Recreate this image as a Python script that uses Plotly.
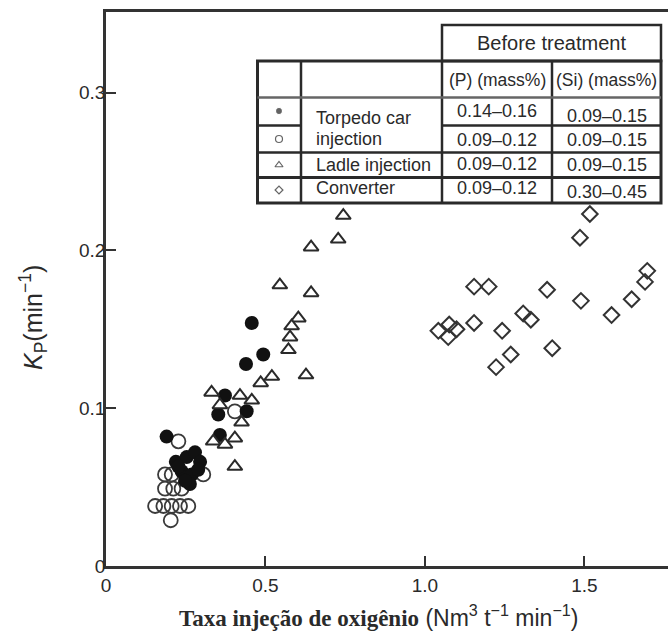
import plotly.graph_objects as go

# Torpedo car injection, (P) 0.14–0.16 mass%
torpedo_hiP_x = [0.219, 0.253, 0.279, 0.295, 0.237, 0.269, 0.263, 0.227, 0.289, 0.248,
                 0.190, 0.357, 0.352, 0.373, 0.441, 0.439, 0.493, 0.457]
torpedo_hiP_y = [0.066, 0.069, 0.072, 0.066, 0.060, 0.058, 0.052, 0.063, 0.061, 0.054,
                 0.082, 0.083, 0.096, 0.108, 0.098, 0.128, 0.134, 0.154]

# Torpedo car injection, (P) 0.09–0.12 mass%
torpedo_loP_x = [0.227, 0.185, 0.206, 0.305, 0.185, 0.211, 0.237, 0.154, 0.180, 0.206,
                 0.232, 0.258, 0.203, 0.404]
torpedo_loP_y = [0.079, 0.058, 0.058, 0.058, 0.049, 0.049, 0.049, 0.038, 0.038, 0.038,
                 0.038, 0.038, 0.029, 0.098]

# Ladle injection
ladle_x = [0.744, 0.728, 0.643, 0.545, 0.643, 0.603, 0.582, 0.577, 0.572, 0.627,
           0.520, 0.485, 0.457, 0.331, 0.420, 0.357, 0.425, 0.336, 0.373, 0.404, 0.404]
ladle_y = [0.222, 0.207, 0.202, 0.178, 0.173, 0.157, 0.152, 0.145, 0.137, 0.121,
           0.120, 0.116, 0.105, 0.110, 0.108, 0.102, 0.091, 0.079, 0.077, 0.081, 0.063]

# Converter
conv_x = [1.517, 1.486, 1.697, 1.690, 1.154, 1.200, 1.383, 1.489, 1.648, 1.585,
          1.308, 1.332, 1.154, 1.042, 1.076, 1.099, 1.073, 1.242, 1.399, 1.269, 1.223]
conv_y = [0.223, 0.208, 0.187, 0.180, 0.177, 0.177, 0.175, 0.168, 0.169, 0.159,
          0.160, 0.156, 0.154, 0.149, 0.153, 0.150, 0.145, 0.149, 0.138, 0.134, 0.126]

x_ticks = [0, 0.5, 1.0, 1.5]
x_tick_text = ["0", "0.5", "1.0", "1.5"]
y_ticks = [0, 0.1, 0.2, 0.3]
y_tick_text = ["0", "0.1", "0.2", "0.3"]

# Inset table content
table_header = "Before treatment"
table_cols = ["(P) (mass%)", "(Si) (mass%)"]
table_p = ["0.14–0.16", "0.09–0.12", "0.09–0.12", "0.09–0.12"]
table_si = ["0.09–0.15", "0.09–0.15", "0.09–0.15", "0.30–0.45"]

INK = "#2a2a2a"
SANS = "Arial, Liberation Sans, sans-serif"

fig = go.Figure()

fig.add_trace(go.Scatter(
    x=torpedo_loP_x, y=torpedo_loP_y, mode="markers",
    marker=dict(symbol="circle-open", size=14, color="#3a3a3a", line=dict(width=1.8)),
    showlegend=False))
fig.add_trace(go.Scatter(
    x=torpedo_hiP_x, y=torpedo_hiP_y, mode="markers",
    marker=dict(symbol="circle", size=14, color="#111111", line=dict(width=0)),
    showlegend=False))
fig.add_trace(go.Scatter(
    x=ladle_x, y=ladle_y, mode="markers",
    marker=dict(symbol="triangle-up", size=13, color="white",
                line=dict(width=2, color="#2a2a2a")),
    showlegend=False))
fig.add_trace(go.Scatter(
    x=conv_x, y=conv_y, mode="markers",
    marker=dict(symbol="diamond-open", size=12, color="#333333", line=dict(width=2)),
    showlegend=False))

# Table is laid out on an overlay pair of axes measured in pixels
X0, X1 = 106, 668
Y0, Y1 = 566, 12

tx = dict(xref="x2", yref="y2")
shapes = []


def rect(x0, y0, x1, y1, w, color=INK):
    # white background below the traces, border drawn above
    shapes.append(dict(type="rect", x0=x0, y0=y0, x1=x1, y1=y1, **tx, layer="below",
                       line=dict(width=0), fillcolor="white"))
    shapes.append(dict(type="rect", x0=x0, y0=y0, x1=x1, y1=y1, **tx,
                       line=dict(width=w, color=color), fillcolor="rgba(0,0,0,0)"))


def hline(x0, x1, y, w, color=INK):
    shapes.append(dict(type="line", x0=x0, x1=x1, y0=y, y1=y, **tx,
                       line=dict(width=w, color=color)))


def vline(x, y0, y1, w, color=INK):
    shapes.append(dict(type="line", x0=x, x1=x, y0=y0, y1=y1, **tx,
                       line=dict(width=w, color=color)))


L, C1, C2, C3, R = 257.5, 301, 442, 552, 661
TOP_H, TOP, H1, R1, R2, R3, BOT = 25, 61, 97.5, 125.5, 152.5, 177.5, 203

rect(C2, TOP_H, R, TOP, 2.5)
rect(L, TOP, R, BOT, 3)
vline(C1, TOP, BOT, 2.5)
vline(C2, TOP, BOT, 2.5)
vline(C3, TOP, BOT, 2.5)
hline(L, R, H1, 2.5, color="#666666")
hline(L, C1, R1, 2.5)
hline(C2, R, R1, 2.5)
hline(L, R, R2, 2.5)
hline(L, R, R3, 3)

annotations = []


def label(x, y, text, size=18, anchor="center"):
    annotations.append(dict(x=x, y=y, text=text, showarrow=False, **tx,
                            xanchor=anchor, yanchor="middle",
                            font=dict(family=SANS, size=size, color=INK)))


label((C2 + R) / 2, 43, table_header, size=20)
label((C2 + C3) / 2, 80, table_cols[0], size=17.5)
label((C3 + R) / 2, 80, table_cols[1], size=17.5)
label(314, 117.5, "Torpedo car", anchor="left")
label(314, 138.5, "injection", anchor="left")
label(314, 165, "Ladle injection", anchor="left")
label(314, 188, "Converter", anchor="left")
row_y_p = [111, 140, 163.5, 188]
row_y_si = [115.5, 140, 165, 191.5]
for yy, t in zip(row_y_p, table_p):
    label((C2 + C3) / 2, yy, t)
for yy, t in zip(row_y_si, table_si):
    label((C3 + R) / 2, yy, t)

# Key symbols in the first column
key_y = [111, 139, 165, 190]
fig.add_trace(go.Scatter(
    x=[279] * 4, y=key_y, mode="markers", xaxis="x2", yaxis="y2",
    marker=dict(symbol=["circle", "circle-open", "triangle-up-open", "diamond-open"],
                size=[7, 7, 7, 6], color="#222222", line=dict(width=1.2)),
    showlegend=False, hoverinfo="skip"))

# Axis titles
annotations.append(dict(
    xref="paper", yref="paper", x=(33 - X0) / (X1 - X0), y=(Y0 - 318) / (Y0 - Y1),
    text="<i>K</i><sub>P</sub>(min<sup>−1</sup>)", textangle=-90, showarrow=False,
    xanchor="center", yanchor="middle",
    font=dict(family=SANS, size=25, color=INK)))
annotations.append(dict(
    xref="paper", yref="paper", x=(378 - X0) / (X1 - X0), y=(Y0 - 616) / (Y0 - Y1),
    text=("<span style='font-family:\"Liberation Serif\", \"Times New Roman\", serif;"
          "font-weight:bold'>Taxa injeção de oxigênio</span> "
          "(Nm<sup>3</sup> t<sup>−1</sup> min<sup>−1</sup>)"),
    showarrow=False, xanchor="center", yanchor="middle",
    font=dict(family=SANS, size=23, color=INK)))

axis_common = dict(
    showgrid=False, zeroline=False, showline=True, linewidth=2.5, linecolor="#333333",
    ticks="inside", ticklen=10, tickwidth=2, tickcolor="#333333",
    tickfont=dict(family=SANS, size=19, color=INK))

fig.update_layout(
    width=668, height=635,
    margin=dict(l=X0, r=0, t=Y1, b=635 - Y0),
    paper_bgcolor="white", plot_bgcolor="white",
    xaxis=dict(range=[0, 1.762], tickvals=x_ticks, ticktext=x_tick_text,
               mirror=True, **axis_common),
    yaxis=dict(range=[0, 0.351], tickvals=y_ticks, ticktext=y_tick_text,
               mirror=False, ticklabelstandoff=-6, **axis_common),
    xaxis2=dict(range=[X0, X1], overlaying="x", anchor="y2", visible=False),
    yaxis2=dict(range=[Y0, Y1], overlaying="y", anchor="x2", visible=False),
    shapes=shapes, annotations=annotations,
)

fig.write_html("out.html")
